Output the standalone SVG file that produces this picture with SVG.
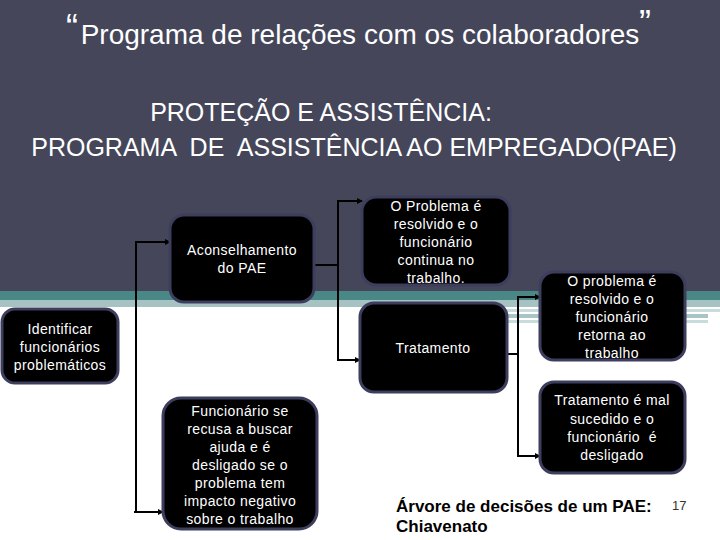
<svg xmlns="http://www.w3.org/2000/svg" width="720" height="540" viewBox="0 0 720 540">
<style>
.box{fill:#000;stroke:#3d3d5e;stroke-width:3}
.nt{fill:#fff;font-family:"Liberation Sans",Arial,sans-serif;font-size:14px;text-anchor:middle;letter-spacing:0.4px}
.hd{fill:#fff;font-family:"Liberation Sans",Arial,sans-serif;text-anchor:middle}
.ln{fill:none;stroke:#000;stroke-width:2}
</style>
<defs>
<marker id="ar" markerWidth="6" markerHeight="6" refX="5" refY="3" orient="auto" markerUnits="userSpaceOnUse">
<path d="M0,0 L6,3 L0,6 z" fill="#000"/>
</marker>
</defs>
<rect x="0" y="0" width="720" height="540" fill="#fff"/>
<rect x="0" y="0" width="720" height="291" fill="#45465a"/>
<rect x="0" y="291" width="720" height="9" fill="#4a8888"/>
<rect x="0" y="300" width="720" height="7" fill="#a6c2c2"/>
<rect x="440" y="309" width="280" height="3" fill="#c8dcdc"/>
<rect x="440" y="314" width="268" height="4" fill="#a8c4c4"/>
<rect x="440" y="320" width="268" height="3" fill="#c8dcdc"/>

<g id="title">
<text class="hd" x="360" y="44" font-size="28">Programa de relações com os colaboradores</text>
<text x="66" y="40" fill="#fff" font-family="Liberation Sans,Arial,sans-serif" font-size="36">“</text>
<text x="639" y="36" fill="#fff" font-family="Liberation Sans,Arial,sans-serif" font-size="36">”</text>
<text class="hd" x="321" y="121" font-size="25">PROTEÇÃO E ASSISTÊNCIA:</text>
<text class="hd" x="354" y="156" font-size="25" xml:space="preserve">PROGRAMA  DE  ASSISTÊNCIA AO EMPREGADO(PAE)</text>
</g>

<g id="connectors">
<polyline class="ln" points="136,512 136,242 170,242" marker-end="url(#ar)"/>
<polyline class="ln" points="134,512 163,512" marker-end="url(#ar)"/>
<polyline class="ln" points="314,265 338,265"/>
<polyline class="ln" points="338,265 338,201 362,201" marker-end="url(#ar)"/>
<polyline class="ln" points="338,265 338,360 360,360" marker-end="url(#ar)"/>
<polyline class="ln" points="507,354 518,354"/>
<polyline class="ln" points="518,354 518,297 540,297" marker-end="url(#ar)"/>
<polyline class="ln" points="518,354 518,456 540,456" marker-end="url(#ar)"/>
</g>

<g id="n-identificar">
<rect class="box" x="2" y="309" width="116" height="74" rx="13"/>
<text class="nt" x="60" y="334">Identificar</text>
<text class="nt" x="60" y="352">funcionários</text>
<text class="nt" x="60" y="370">problemáticos</text>
</g>

<g id="n-aconselhamento">
<rect class="box" x="170" y="215" width="144" height="87" rx="14"/>
<text class="nt" x="242" y="255">Aconselhamento</text>
<text class="nt" x="242" y="273">do PAE</text>
</g>

<g id="n-resolvido1">
<rect class="box" x="362" y="197" width="148" height="88" rx="14"/>
<text class="nt" x="436" y="211">O Problema é</text>
<text class="nt" x="436" y="229">resolvido e o</text>
<text class="nt" x="436" y="247">funcionário</text>
<text class="nt" x="436" y="265">continua no</text>
<text class="nt" x="436" y="283">trabalho.</text>
</g>

<g id="n-tratamento">
<rect class="box" x="360" y="303" width="147" height="89" rx="14"/>
<text class="nt" x="433" y="353">Tratamento</text>
</g>

<g id="n-retorna">
<rect class="box" x="540" y="272" width="145" height="88" rx="14"/>
<text class="nt" x="612" y="286">O problema é</text>
<text class="nt" x="612" y="304">resolvido e o</text>
<text class="nt" x="612" y="322">funcionário</text>
<text class="nt" x="612" y="340">retorna ao</text>
<text class="nt" x="612" y="358">trabalho</text>
</g>

<g id="n-desligado">
<rect class="box" x="540" y="382" width="145" height="91" rx="14"/>
<text class="nt" x="612" y="405">Tratamento é mal</text>
<text class="nt" x="612" y="424">sucedido e o</text>
<text class="nt" x="612" y="442" xml:space="preserve">funcionário  é</text>
<text class="nt" x="612" y="460">desligado</text>
</g>

<g id="n-recusa">
<rect class="box" x="163" y="398" width="154" height="131" rx="18"/>
<text class="nt" x="240" y="416">Funcionário se</text>
<text class="nt" x="240" y="434">recusa a buscar</text>
<text class="nt" x="240" y="452">ajuda e é</text>
<text class="nt" x="240" y="470">desligado se o</text>
<text class="nt" x="240" y="488">problema tem</text>
<text class="nt" x="240" y="506">impacto negativo</text>
<text class="nt" x="240" y="524">sobre o trabalho</text>
</g>

<g id="caption">
<text x="396" y="512" fill="#000" font-family="Liberation Sans,Arial,sans-serif" font-size="17" font-weight="bold">Árvore de decisões de um PAE:</text>
<text x="396" y="532" fill="#000" font-family="Liberation Sans,Arial,sans-serif" font-size="17" font-weight="bold">Chiavenato</text>
<text x="672" y="510" fill="#333" font-family="Liberation Sans,Arial,sans-serif" font-size="13">17</text>
</g>
</svg>
